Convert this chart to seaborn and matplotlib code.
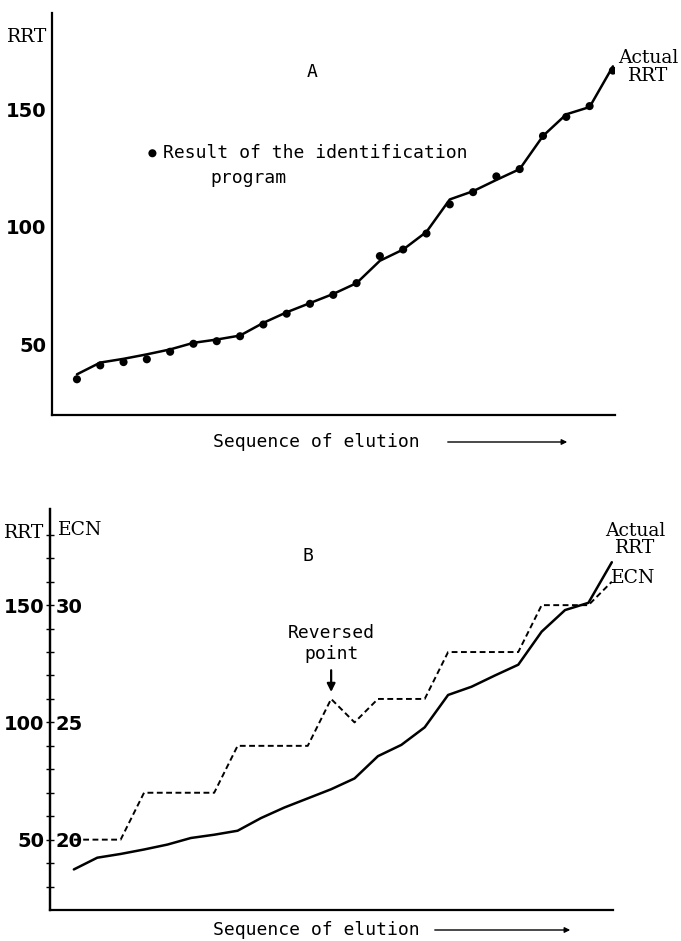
import numpy as np
import pandas as pd
import seaborn as sns
import matplotlib.pyplot as plt
from matplotlib import font_manager
from matplotlib.patches import FancyArrowPatch

# elution order, actual RRT, RRT found by the identification program, ECN
order = np.arange(24)
rrt_actual = [37.3, 42.3, 43.9, 45.8, 47.9, 50.7, 52.1, 53.8, 59.2, 63.7, 67.6, 71.5,
              76.1, 85.6, 90.4, 97.9, 111.7, 115.2, 120.0, 124.6, 138.7, 147.9, 151.0, 168.3]
rrt_identified = [35.2, 41.1, 42.5, 43.7, 46.9, 50.3, 51.4, 53.5, 58.5, 63.1, 67.3, 71.1,
                  76.1, 87.6, 90.4, 97.2, 109.6, 114.8, 121.5, 124.6, 138.7, 146.8, 151.4, 166.5]
ecn_values = [20, 20, 20, 22, 22, 22, 22, 24, 24, 24, 24, 26,
              25, 26, 26, 26, 28, 28, 28, 28, 30, 30, 30, 31]
rrt_major = [50, 100, 150]
rrt_minor = list(range(30, 190, 10))
ecn_major = [20, 25, 30]
ecn_minor = list(range(18, 34))

df = pd.DataFrame({"order": order, "rrt": rrt_actual,
                   "ident": rrt_identified, "ecn": ecn_values})

sns.set_style("white")
plt.rcParams["font.family"] = ["DejaVu Sans"]
plt.rcParams["text.color"] = "black"
plt.rcParams["ytick.color"] = "black"
plt.rcParams["xtick.color"] = "black"

MONO = "DejaVu Sans Mono"
TYPE = "DejaVu Serif"

# narrow face for the tick numbers, if one is installed
NUM_PROPS = dict(family="DejaVu Sans", weight="bold", fontsize=14)
for f in font_manager.fontManager.ttflist:
    if f.name == "Liberation Sans Narrow":
        NUM_PROPS = dict(family="Liberation Sans Narrow", weight="bold", fontsize=15)
        break

W, H = 681, 941
fig = plt.figure(figsize=(W / 100, H / 100), dpi=100)


def px_axes(l, t, r, b):
    return fig.add_axes([l / W, 1 - b / H, (r - l) / W, (b - t) / H])


def number_labels(ax):
    for lab in ax.get_yticklabels():
        lab.set_family(NUM_PROPS["family"])
        lab.set_fontsize(NUM_PROPS["fontsize"])
        lab.set_weight(NUM_PROPS["weight"])
        lab.set_color("black")


def style_axis(ax, xlim):
    ax.set_xlim(*xlim)
    ax.set_ylim(20, 191)
    for s in ["top", "right"]:
        ax.spines[s].set_visible(False)
    for s in ["left", "bottom"]:
        ax.spines[s].set_linewidth(1.6)
        ax.spines[s].set_color("black")
    ax.set_xticks(order)
    ax.set_xticklabels([])
    ax.tick_params(axis="x", direction="in", length=3, width=0.8)
    ax.set_yticks(rrt_major)
    ax.set_yticks([v for v in rrt_minor if v not in rrt_major], minor=True)
    ax.tick_params(axis="y", which="both", direction="out", length=3, width=1, pad=1)
    number_labels(ax)
    ax.set_xlabel("")
    ax.set_ylabel("")


def elution_label(y_px, x_text, x0, x1):
    fig.text(x_text / W, 1 - y_px / H, "Sequence of elution", family=MONO,
             fontsize=13, ha="left", va="center")
    fig.add_artist(FancyArrowPatch(
        (x0 / W, 1 - y_px / H), (x1 / W, 1 - y_px / H), transform=fig.transFigure,
        arrowstyle="-|>", mutation_scale=8, lw=1, color="black"))


# ---------------- panel A ----------------
ax_a = px_axes(52, 13, 615, 415)
sns.lineplot(data=df, x="order", y="rrt", ax=ax_a, color="black", lw=1.8)
sns.scatterplot(data=df, x="order", y="ident", ax=ax_a, color="black", s=34,
                edgecolor="none", zorder=3, label="Result of the identification")
style_axis(ax_a, (-1.07, 23.09))
ax_a.legend(loc="center left", bbox_to_anchor=(147 / W, 1 - 153 / H),
            bbox_transform=fig.transFigure, frameon=False, borderpad=0,
            borderaxespad=0, handlelength=0.6, handletextpad=0.3,
            prop={"family": MONO, "size": 13}, labelcolor="black")
fig.text(210 / W, 1 - 178 / H, "program", family=MONO, fontsize=13,
         ha="left", va="center")
ax_a.text(10.1, 166, "A", family=MONO, fontsize=13, ha="center", va="center")
ax_a.text(24.5, 168, "Actual\nRRT", family=TYPE, fontsize=13.5, ha="center",
          va="center", linespacing=0.95, clip_on=False)
fig.text(27 / W, 1 - 37 / H, "RRT", family=TYPE, fontsize=13.5, ha="center", va="center")
elution_label(442, 213, 445, 570)

# ---------------- panel B ----------------
ax_b = px_axes(50, 509, 613, 910)
sns.lineplot(data=df, x="order", y="rrt", ax=ax_b, color="black", lw=1.8)
style_axis(ax_b, (-1.02, 23.05))

ax_e = ax_b.twinx()
sns.lineplot(data=df, x="order", y="ecn", ax=ax_e, color="black", lw=1.4,
             linestyle=(0, (3, 1.8)))
ax_e.set_ylim(15 + 20 / 10, 15 + 191 / 10)
ax_e.set_xlim(-1.02, 23.05)
ax_e.spines["right"].set_position(("axes", 0))
for s in ["top", "left", "bottom"]:
    ax_e.spines[s].set_visible(False)
ax_e.spines["right"].set_linewidth(1.6)
ax_e.spines["right"].set_color("black")
ax_e.set_yticks(ecn_major)
ax_e.set_yticks([v for v in ecn_minor if v not in ecn_major], minor=True)
ax_e.tick_params(axis="y", which="both", direction="out", length=3, width=1, pad=1)
number_labels(ax_e)
ax_e.set_ylabel("")

ax_e.annotate("Reversed\npoint", xy=(11, ecn_values[11]), xytext=(0, 40),
              textcoords="offset points", family=MONO, fontsize=13,
              ha="center", va="center", multialignment="center",
              arrowprops=dict(arrowstyle="-|>", lw=1.6, color="black",
                              mutation_scale=12, shrinkA=3, shrinkB=5))
ax_b.text(10.0, 171, "B", family=MONO, fontsize=13, ha="center", va="center")
ax_b.text(24.0, 178, "Actual\nRRT", family=TYPE, fontsize=13.5, ha="center",
          va="center", linespacing=0.95, clip_on=False)
ax_b.text(23.9, 161.5, "ECN", family=TYPE, fontsize=13.5, ha="center",
          va="center", clip_on=False)
fig.text(24 / W, 1 - 533 / H, "RRT", family=TYPE, fontsize=13.5, ha="center", va="center")
fig.text(80 / W, 1 - 530 / H, "ECN", family=TYPE, fontsize=13.5, ha="center", va="center")
elution_label(930, 213, 432, 573)

fig.savefig("out.png", dpi=100)
